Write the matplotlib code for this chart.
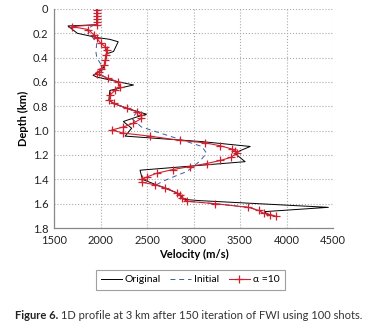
import numpy as np
import matplotlib
matplotlib.use('Agg')
import matplotlib.pyplot as plt

plt.rcParams['font.family'] = ['Lato', 'DejaVu Sans']

# alpha = 10 result (depth km, velocity m/s)
depth_fwi = [0.01, 0.035, 0.06, 0.085, 0.11, 0.13, 0.145, 0.17, 0.215, 0.24,
             0.28, 0.31, 0.34, 0.38, 0.42, 0.46, 0.49, 0.515, 0.535, 0.57,
             0.60, 0.64, 0.665, 0.71, 0.75, 0.775, 0.815, 0.845, 0.87, 0.90,
             0.94, 0.97, 0.995, 1.02, 1.045, 1.08, 1.10, 1.125, 1.15, 1.17,
             1.185, 1.22, 1.245, 1.27, 1.295, 1.32, 1.35, 1.38, 1.40, 1.425,
             1.445, 1.47, 1.51, 1.53, 1.555, 1.58, 1.60, 1.63, 1.655, 1.68,
             1.69, 1.705]
vel_fwi = [1960, 1960, 1960, 1960, 1960, 1960, 1690, 1870, 1930, 1960,
           2000, 2050, 2070, 2060, 2050, 2040, 2010, 1980, 1960, 2080,
           2190, 2210, 2160, 2100, 2095, 2140, 2280, 2390, 2440, 2440,
           2350, 2245, 2120, 2245, 2530, 2855, 3125, 3290, 3410, 3450,
           3465, 3400, 3290, 3140, 2960, 2775, 2605, 2500, 2445, 2450,
           2590, 2695, 2820, 2855, 2875, 2930, 3230, 3590, 3700, 3755,
           3825, 3890]

# original model
depth_orig = [0.0, 0.13, 0.14, 0.2, 0.235, 0.25, 0.27, 0.35, 0.37, 0.45,
              0.5, 0.545, 0.56, 0.6, 0.625, 0.655, 0.67, 0.75, 0.78, 0.82,
              0.865, 0.89, 0.925, 0.98, 1.045, 1.09, 1.13, 1.165, 1.19, 1.255,
              1.325, 1.40, 1.445, 1.52, 1.565, 1.575, 1.63, 1.665, 1.70]
vel_orig = [1960, 1960, 1650, 1750, 1960, 2100, 2190, 2140, 2060, 2050,
            2020, 1920, 1960, 2200, 2355, 2180, 2100, 2090, 2150, 2300,
            2495, 2380, 2245, 2335, 2265, 3090, 3610, 3500, 3450, 3555,
            2425, 2450, 2600, 2850, 2900, 3070, 4450, 3770, 3800]

# initial model
depth_init = [0.0, 0.12, 0.165, 0.22, 0.28, 0.35, 0.4, 0.45, 0.5, 0.53,
              0.57, 0.6, 0.64, 0.67, 0.71, 0.75, 0.78, 0.815, 0.85, 0.9,
              0.97, 1.13, 1.185, 1.25, 1.335, 1.39, 1.42, 1.445, 1.47, 1.51,
              1.53, 1.555, 1.58, 1.60, 1.63, 1.655, 1.68, 1.69, 1.705]
vel_init = [1960, 1960, 1850, 1900, 1960, 1950, 1960, 2000, 2000, 1980,
            2080, 2190, 2200, 2150, 2100, 2100, 2140, 2280, 2390, 2335,
            2440, 3090, 3140, 3070, 2930, 2750, 2660, 2600, 2700, 2820,
            2855, 2875, 2930, 3230, 3590, 3700, 3755, 3825, 3890]

xticks = [1500, 2000, 2500, 3000, 3500, 4000, 4500]
yticks = [0, 0.2, 0.4, 0.6, 0.8, 1.0, 1.2, 1.4, 1.6, 1.8]
ylabels = ['0', '0.2', '0.4', '0.6', '0.8', '1.0', '1.2', '1.4', '1.6', '1.8']

fig = plt.figure(figsize=(3.7, 3.3), dpi=100)
ax = fig.add_axes([0.146, 0.309, 0.754, 0.664])

ax.plot(vel_orig, depth_orig, color='black', lw=0.7, label='Original')
ax.plot(vel_init, depth_init, color='#3b5b9c', lw=0.7, ls=(0, (5, 4)), label='Initial')
ax.plot(vel_fwi, depth_fwi, color='#d0202e', lw=0.8, marker='+', ms=6, mew=0.9,
        label='α =10')

ax.set_xlim(1500, 4500)
ax.set_ylim(1.8, 0)
ax.set_xticks(xticks)
ax.set_yticks(yticks)
ax.set_yticklabels(ylabels)
ax.tick_params(length=0, labelsize=8, colors='#222222')
ax.tick_params(axis='x', pad=5)
ax.tick_params(axis='y', pad=4)
ax.grid(True, color='#aaaaaa', ls=':', lw=0.8)
for s in ['top', 'right']:
    ax.spines[s].set_visible(False)
for s in ['left', 'bottom']:
    ax.spines[s].set_color('#888888')
    ax.spines[s].set_linewidth(0.9)

ax.set_xlabel('Velocity (m/s)', fontsize=8, fontweight='bold', labelpad=2)
ax.set_ylabel('Depth (km)', fontsize=8, fontweight='bold', labelpad=3)

leg = fig.legend(loc='center', bbox_to_anchor=(0.514, 0.152), ncol=3, fontsize=7.5,
                 frameon=True, fancybox=False, edgecolor='#888888',
                 handlelength=2.0, columnspacing=0.9, handletextpad=0.3,
                 borderpad=0.5)
leg.get_frame().set_linewidth(0.8)

t1 = fig.text(0.04, 0.045, 'Figure 6.', fontsize=8, fontweight='bold',
              color='#222222', va='center')
fig.canvas.draw()
bb = t1.get_window_extent()
x2 = bb.x1 / fig.bbox.width
fig.text(x2, 0.045, ' 1D profile at 3 km after 150 iteration of FWI using 100 shots.',
         fontsize=8, color='#333333', va='center')

fig.savefig('out.png', dpi=100)
